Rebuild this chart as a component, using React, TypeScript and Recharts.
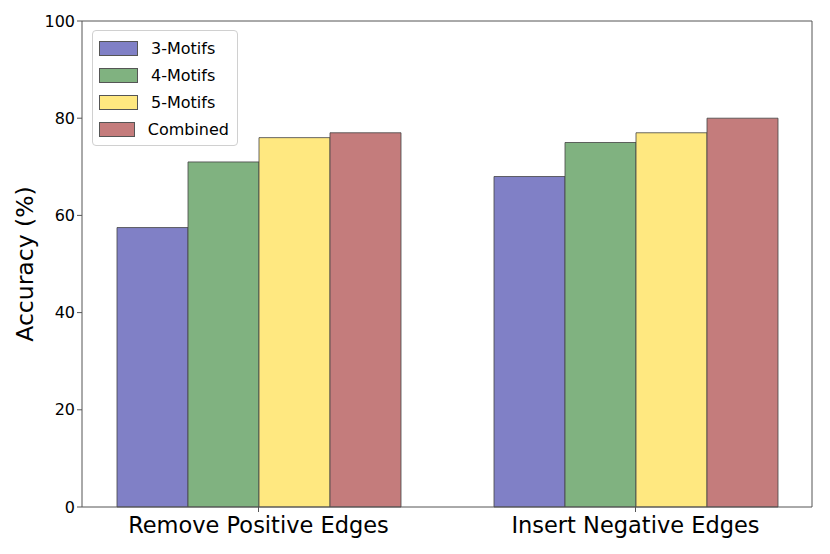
import React from 'react';
import { BarChart, Bar, XAxis, YAxis, Legend } from 'recharts';

const categories = ['Remove Positive Edges', 'Insert Negative Edges'];
const motifs3 = [57.5, 68];
const motifs4 = [71, 75];
const motifs5 = [76, 77];
const combined = [77, 80];
const yTicks = [0, 20, 40, 60, 80, 100];

const series = [
  { key: 'm3', name: '3-Motifs', color: '#8080c6' },
  { key: 'm4', name: '4-Motifs', color: '#80b280' },
  { key: 'm5', name: '5-Motifs', color: '#ffe880' },
  { key: 'comb', name: 'Combined', color: '#c47c7c' },
];

const data = categories.map((name, i) => ({
  name,
  m3: motifs3[i],
  m4: motifs4[i],
  m5: motifs5[i],
  comb: combined[i],
}));

const font = 'DejaVu Sans, sans-serif';
const frame = '#555555';

const LegendBox = () => (
  <div
    style={{
      border: '1px solid #d0d0d0',
      borderRadius: 4,
      background: 'rgba(255,255,255,0.8)',
      padding: '4px 8px 2px 6px',
      fontFamily: font,
      fontSize: 16,
      width: 130,
    }}
  >
    {series.map((s) => (
      <div key={s.key} style={{ display: 'flex', alignItems: 'center', height: 27 }}>
        <span
          style={{
            display: 'inline-block',
            width: 37,
            height: 13,
            background: s.color,
            border: '1px solid #555',
            marginRight: 13,
          }}
        />
        <span>{s.name}</span>
      </div>
    ))}
  </div>
);

const App = () => {
  return (
    <div style={{ position: 'absolute', left: 0, top: 0, width: 830, height: 554, background: '#fff' }}>
      <BarChart
        width={830}
        height={554}
        data={data}
        margin={{ top: 20, right: 17, bottom: 0, left: 0 }}
        barGap={0}
        barCategoryGap={47}
      >
        <XAxis
          dataKey="name"
          padding={{ left: -12, right: -12 }}
          height={47}
          stroke={frame}
          tickSize={5}
          tick={{ fill: '#000', fontSize: 22.5, fontFamily: font, dy: 3 }}
        />
        <XAxis xAxisId="top" orientation="top" dataKey="name" height={1} tick={false} tickLine={false} stroke={frame} />
        <YAxis
          domain={[0, 100]}
          ticks={yTicks}
          width={82}
          stroke={frame}
          tickSize={5}
          interval={0}
          tick={{ fill: '#000', fontSize: 16, fontFamily: font }}
          label={{
            value: 'Accuracy (%)',
            angle: -90,
            position: 'insideLeft',
            dx: 20,
            style: { textAnchor: 'middle', fill: '#000', fontSize: 23.5, fontFamily: font },
          }}
        />
        <YAxis yAxisId="right" orientation="right" width={1} tick={false} tickLine={false} stroke={frame} domain={[0, 100]} />
        <Legend
          verticalAlign="top"
          align="left"
          content={() => <LegendBox />}
          wrapperStyle={{ top: 30, left: 92, width: 0, height: 0, overflow: 'visible' }}
        />
        {series.map((s) => (
          <Bar
            key={s.key}
            dataKey={s.key}
            name={s.name}
            fill={s.color}
            stroke="#444"
            strokeOpacity={0.8}
            strokeWidth={1}
            isAnimationActive={false}
          />
        ))}
      </BarChart>
    </div>
  );
};

export default App;
